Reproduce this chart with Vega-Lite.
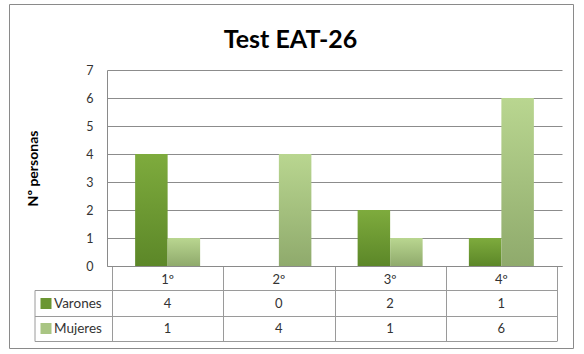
{
  "$schema": "https://vega.github.io/schema/vega-lite/v6.json",
  "width": 455,
  "height": 196,
  "autosize": {"type": "none"},
  "padding": {"left": 107, "top": 70, "right": 22, "bottom": 88},
  "background": "white",
  "config": {"view": {"stroke": null}, "font": "Lato", "axisY": {"tickCount": 8}},
  "data": {
    "values": [
      {"curso": 1, "label": "1º", "sexo": "Varones", "n": 4},
      {"curso": 1, "label": "1º", "sexo": "Mujeres", "n": 1},
      {"curso": 2, "label": "2º", "sexo": "Varones", "n": 0},
      {"curso": 2, "label": "2º", "sexo": "Mujeres", "n": 4},
      {"curso": 3, "label": "3º", "sexo": "Varones", "n": 2},
      {"curso": 3, "label": "3º", "sexo": "Mujeres", "n": 1},
      {"curso": 4, "label": "4º", "sexo": "Varones", "n": 1},
      {"curso": 4, "label": "4º", "sexo": "Mujeres", "n": 6}
    ]
  },
  "layer": [
    {
      "data": {"values": [{}]},
      "mark": {"type": "rect", "filled": false, "stroke": "#8a8a8a", "strokeWidth": 1, "xOffset": -102.5, "x2Offset": 16.5, "yOffset": -65.5, "y2Offset": 82.5},
      "encoding": {
        "x": {"datum": 0.5, "type": "quantitative", "scale": {"domain": [0.5, 4.5], "nice": false, "zero": false},
          "axis": {"values": [0.5, 1.5, 2.5, 3.5, 4.5], "labels": false, "title": null, "grid": false, "tickSize": 75, "tickColor": "#9a9a9a", "domainColor": "#8a8a8a", "ticks": true}},
        "x2": {"datum": 4.5},
        "y": {"datum": 7, "type": "quantitative", "scale": {"domain": [0, 7], "nice": false},
          "axis": {"values": [0, 1, 2, 3, 4, 5, 6, 7], "title": "Nº personas", "titleFont": "Lato", "titleFontSize": 14, "titleFontWeight": "bold", "titleColor": "#000000", "titlePadding": 45,
            "grid": true, "gridColor": "#8c8c8c", "domainColor": "#8a8a8a", "tickSize": 0, "tickOpacity": 0, "labelPadding": 14, "labelFont": "Lato", "labelFontSize": 12.5, "labelColor": "#333333"}},
        "y2": {"datum": 0}
      }
    },
    {
      "data": {"values": [{}]},
      "mark": {"type": "text", "text": "Test EAT-26", "font": "Lato", "fontSize": 25, "fontWeight": "bold", "color": "#000000", "align": "center", "baseline": "alphabetic", "dx": -44, "dy": -22},
      "encoding": {"x": {"datum": 2.5, "type": "quantitative"}, "y": {"datum": 7, "type": "quantitative"}}
    },
    {
      "transform": [{"filter": "datum.sexo === 'Varones'"}],
      "mark": {
        "type": "bar", "orient": "vertical", "width": 32.5, "xOffset": -16.25,
        "color": {"gradient": "linear", "x1": 0, "y1": 0, "x2": 0, "y2": 1, "stops": [{"offset": 0, "color": "#7eab3d"}, {"offset": 1, "color": "#5c8728"}]}
      },
      "encoding": {
        "x": {"field": "curso", "type": "quantitative"},
        "y": {"field": "n", "type": "quantitative"}
      }
    },
    {
      "transform": [{"filter": "datum.sexo === 'Mujeres'"}],
      "mark": {
        "type": "bar", "orient": "vertical", "width": 32.5, "xOffset": 16.25,
        "color": {"gradient": "linear", "x1": 0, "y1": 0, "x2": 0, "y2": 1, "stops": [{"offset": 0, "color": "#b9d690"}, {"offset": 1, "color": "#8faa6c"}]}
      },
      "encoding": {
        "x": {"field": "curso", "type": "quantitative"},
        "y": {"field": "n", "type": "quantitative"}
      }
    },
    {
      "transform": [{"filter": "datum.sexo === 'Varones'"}],
      "mark": {"type": "text", "font": "Lato", "fontSize": 13, "color": "#333333", "baseline": "middle", "dy": 14},
      "encoding": {
        "x": {"field": "curso", "type": "quantitative"},
        "y": {"datum": 0, "type": "quantitative"},
        "text": {"field": "label"}
      }
    },
    {
      "transform": [{"filter": "datum.sexo === 'Varones'"}],
      "mark": {"type": "text", "font": "Lato", "fontSize": 13, "color": "#333333", "baseline": "middle", "dy": 37.5},
      "encoding": {
        "x": {"field": "curso", "type": "quantitative"},
        "y": {"datum": 0, "type": "quantitative"},
        "text": {"field": "n"}
      }
    },
    {
      "transform": [{"filter": "datum.sexo === 'Mujeres'"}],
      "mark": {"type": "text", "font": "Lato", "fontSize": 13, "color": "#333333", "baseline": "middle", "dy": 62.5},
      "encoding": {
        "x": {"field": "curso", "type": "quantitative"},
        "y": {"datum": 0, "type": "quantitative"},
        "text": {"field": "n"}
      }
    },
    {
      "data": {"values": [{}]},
      "mark": {"type": "rule", "color": "#9a9a9a", "strokeWidth": 1, "xOffset": -77, "yOffset": 24.5},
      "encoding": {"x": {"datum": 0.5, "type": "quantitative"}, "x2": {"datum": 4.5}, "y": {"datum": 0, "type": "quantitative"}}
    },
    {
      "data": {"values": [{}]},
      "mark": {"type": "rule", "color": "#9a9a9a", "strokeWidth": 1, "xOffset": -77, "yOffset": 50.5},
      "encoding": {"x": {"datum": 0.5, "type": "quantitative"}, "x2": {"datum": 4.5}, "y": {"datum": 0, "type": "quantitative"}}
    },
    {
      "data": {"values": [{}]},
      "mark": {"type": "rule", "color": "#9a9a9a", "strokeWidth": 1, "xOffset": -77, "yOffset": 75.5},
      "encoding": {"x": {"datum": 0.5, "type": "quantitative"}, "x2": {"datum": 4.5}, "y": {"datum": 0, "type": "quantitative"}}
    },
    {
      "data": {"values": [{}]},
      "mark": {"type": "rule", "color": "#9a9a9a", "strokeWidth": 1, "xOffset": -77, "yOffset": 24.5, "y2Offset": 75.5},
      "encoding": {"x": {"datum": 0.5, "type": "quantitative"}, "y": {"datum": 0, "type": "quantitative"}, "y2": {"datum": 0}}
    },
    {
      "data": {"values": [{}]},
      "mark": {"type": "text", "text": "Varones", "font": "Lato", "fontSize": 13.5, "color": "#333333", "align": "left", "baseline": "middle", "dx": -58, "dy": 37.5},
      "encoding": {"x": {"datum": 0.5, "type": "quantitative"}, "y": {"datum": 0, "type": "quantitative"}}
    },
    {
      "data": {"values": [{}]},
      "mark": {"type": "text", "text": "Mujeres", "font": "Lato", "fontSize": 13.5, "color": "#333333", "align": "left", "baseline": "middle", "dx": -58, "dy": 62.5},
      "encoding": {"x": {"datum": 0.5, "type": "quantitative"}, "y": {"datum": 0, "type": "quantitative"}}
    },
    {
      "data": {"values": [{}]},
      "mark": {"type": "square", "filled": true, "size": 121, "color": "#6b9632", "opacity": 1, "xOffset": -66, "yOffset": 37.5},
      "encoding": {"x": {"datum": 0.5, "type": "quantitative"}, "y": {"datum": 0, "type": "quantitative"}}
    },
    {
      "data": {"values": [{}]},
      "mark": {"type": "square", "filled": true, "size": 121, "color": "#a9c583", "opacity": 1, "xOffset": -66, "yOffset": 62.5},
      "encoding": {"x": {"datum": 0.5, "type": "quantitative"}, "y": {"datum": 0, "type": "quantitative"}}
    }
  ]
}
